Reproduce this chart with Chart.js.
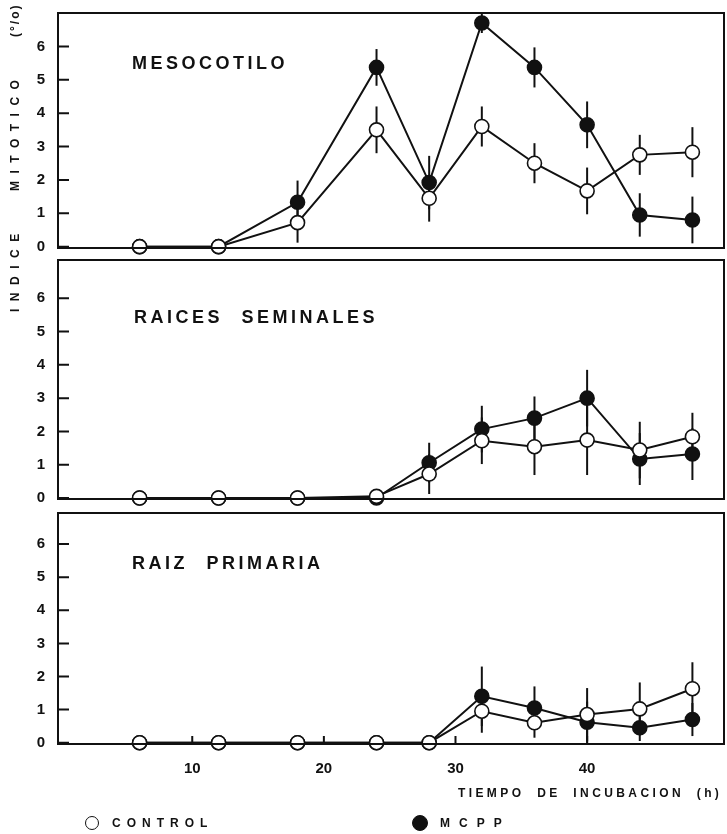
<!DOCTYPE html>
<html>
<head>
<meta charset="utf-8">
<script src="https://cdn.jsdelivr.net/npm/chart.js@4.4.1/dist/chart.umd.min.js"></script>
<style>
  body { margin: 0; background: #fff; width: 727px; height: 834px; position: relative; overflow: hidden;
         font-family: "Liberation Sans", Arial, sans-serif; font-weight: bold; color: #111; }
  canvas { position: absolute; left: 0; }
  .lbl { position: absolute; white-space: nowrap; line-height: 1; }
  .panel { font-size: 18px; letter-spacing: 3.5px; word-spacing: 10px; }
  .small { font-size: 12px; }
  .dot { position: absolute; border-radius: 50%; box-sizing: border-box; border: 1.6px solid #111; }
</style>
</head>
<body>
<canvas id="meso" width="727" height="260" style="top:0"></canvas>
<canvas id="seminal" width="727" height="260" style="top:250px"></canvas>
<canvas id="primaria" width="727" height="329" style="top:505px"></canvas>

<div class="lbl panel" style="left:132px; top:54px">MESOCOTILO</div>
<div class="lbl panel" style="left:134px; top:308px">RAICES SEMINALES</div>
<div class="lbl panel" style="left:132px; top:554px">RAIZ PRIMARIA</div>

<!-- y axis title, rotated -->
<div style="position:absolute; left:0; top:0; width:312px; height:14px; transform-origin:0 0; transform:translate(8px, 312px) rotate(-90deg);">
  <span class="lbl small" style="left:0; top:1px; letter-spacing:7.5px">INDICE</span>
  <span class="lbl small" style="left:121px; top:1px; letter-spacing:7.5px">MITOTICO</span>
  <span class="lbl small" style="left:275px; top:1px; letter-spacing:2px">(°/o)</span>
</div>

<div class="lbl small" style="left:458px; top:787px; letter-spacing:3.4px; word-spacing:6px">TIEMPO DE INCUBACION (h)</div>

<span class="dot" style="left:85px; top:816px; width:14px; height:14px; background:#fff"></span>
<div class="lbl small" style="left:112px; top:817px; letter-spacing:6px">CONTROL</div>
<span class="dot" style="left:412px; top:815px; width:16px; height:16px; background:#111"></span>
<div class="lbl small" style="left:440px; top:817px; letter-spacing:9px">MCPP</div>

<script>
// hours of incubation (same sampling for the three panels)
const hours = [6, 12, 18, 24, 28, 32, 36, 40, 44, 48];
const yTicks = [0, 1, 2, 3, 4, 5, 6];
const xTicks = [10, 20, 30, 40];

// MESOCOTILO
const mesoControl    = [0, 0, 0.72, 3.5, 1.45, 3.6, 2.5, 1.67, 2.75, 2.83];
const mesoControlErr = [0, 0, 0.6, 0.7, 0.7, 0.6, 0.6, 0.7, 0.6, 0.75];
const mesoMcpp       = [0, 0, 1.33, 5.37, 1.92, 6.7, 5.37, 3.65, 0.95, 0.8];
const mesoMcppErr    = [0, 0, 0.65, 0.55, 0.8, 0.3, 0.6, 0.7, 0.65, 0.7];

// RAICES SEMINALES
const seminalControl    = [0, 0, 0, 0.05, 0.72, 1.72, 1.54, 1.74, 1.44, 1.84];
const seminalControlErr = [0, 0, 0, 0, 0.6, 0.7, 0.85, 1.05, 0.85, 0.72];
const seminalMcpp       = [0, 0, 0, 0, 1.06, 2.07, 2.4, 3.0, 1.17, 1.32];
const seminalMcppErr    = [0, 0, 0, 0, 0.6, 0.7, 0.65, 0.85, 0.78, 0.78];

// RAIZ PRIMARIA
const primControl    = [0, 0, 0, 0, 0, 0.95, 0.6, 0.85, 1.02, 1.63];
const primControlErr = [0, 0, 0, 0, 0, 0.65, 0.45, 0.8, 0.8, 0.8];
const primMcpp       = [0, 0, 0, 0, 0, 1.4, 1.05, 0.62, 0.45, 0.7];
const primMcppErr    = [0, 0, 0, 0, 0, 0.9, 0.65, 0.62, 0.4, 0.5];

const INK = '#111';
const tickFont = { family: '"Liberation Sans", Arial, sans-serif', weight: 'bold', size: 15 };

// frame + inward tick marks
const framePlugin = {
  id: 'frame',
  afterDraw(chart, args, opts) {
    const { ctx, chartArea: a, scales } = chart;
    ctx.save();
    ctx.strokeStyle = INK;
    ctx.lineWidth = 2;
    ctx.strokeRect(a.left, a.top, a.right - a.left, a.bottom - a.top);
    ctx.beginPath();
    yTicks.forEach(v => {
      const y = scales.y.getPixelForValue(v);
      ctx.moveTo(a.left, y);
      ctx.lineTo(a.left + 11, y);
    });
    if (opts.xTicks) {
      xTicks.forEach(v => {
        const x = scales.x.getPixelForValue(v);
        ctx.moveTo(x, a.bottom);
        ctx.lineTo(x, a.bottom - 8);
      });
    }
    ctx.stroke();
    ctx.restore();
  }
};

// vertical error bars, drawn under the markers
const errorBarPlugin = {
  id: 'errbars',
  beforeDatasetsDraw(chart) {
    const { ctx, scales } = chart;
    ctx.save();
    ctx.strokeStyle = INK;
    ctx.lineWidth = 2;
    chart.data.datasets.forEach((ds, di) => {
      const meta = chart.getDatasetMeta(di);
      ds.data.forEach((p, i) => {
        const e = ds.errors[i];
        if (!e) return;
        const x = meta.data[i].x;
        ctx.beginPath();
        ctx.moveTo(x, scales.y.getPixelForValue(p.y + e));
        ctx.lineTo(x, scales.y.getPixelForValue(Math.max(0, p.y - e)));
        ctx.stroke();
      });
    });
    ctx.restore();
  }
};

function series(label, values, errors, fill) {
  return {
    label,
    data: hours.map((h, i) => ({ x: h, y: values[i] })),
    errors,
    borderColor: INK,
    borderWidth: 2,
    pointRadius: 7,
    pointBackgroundColor: fill,
    pointBorderColor: INK,
    pointBorderWidth: 1.6,
    tension: 0,
    clip: false
  };
}

function noPad(s) {
  s.paddingTop = 0; s.paddingBottom = 0; s.paddingLeft = 0; s.paddingRight = 0;
}

function makePanel(id, control, controlErr, mcpp, mcppErr, yMin, yMax, padTop, padBottom, showX) {
  const canvas = document.getElementById(id);
  return new Chart(canvas.getContext('2d'), {
    type: 'line',
    data: {
      datasets: [
        series('CONTROL', control, controlErr, '#fff'),
        series('MCPP', mcpp, mcppErr, INK)
      ]
    },
    options: {
      responsive: false,
      animation: false,
      events: [],
      layout: { autoPadding: false, padding: { top: padTop, bottom: padBottom, left: 0, right: 3 } },
      plugins: { legend: { display: false }, tooltip: { enabled: false }, frame: { xTicks: showX } },
      scales: {
        x: {
          type: 'linear',
          min: -0.2,
          max: 50.4,
          display: showX,
          grid: { display: false, drawTicks: false },
          border: { display: false },
          afterBuildTicks: s => { s.ticks = xTicks.map(v => ({ value: v })); },
          afterFit: s => { s.height = showX ? 90 : 0; noPad(s); },
          ticks: { font: tickFont, color: INK, padding: 16, maxRotation: 0, autoSkip: false }
        },
        y: {
          min: yMin,
          max: yMax,
          grid: { display: false, drawTicks: false },
          border: { display: false },
          afterBuildTicks: s => { s.ticks = yTicks.map(v => ({ value: v })); },
          afterFit: s => { s.width = 58; noPad(s); },
          ticks: { font: tickFont, color: INK, padding: 13 }
        }
      }
    },
    plugins: [framePlugin, errorBarPlugin]
  });
}

makePanel('meso', mesoControl, mesoControlErr, mesoMcpp, mesoMcppErr, -0.04, 7.0, 13, 12, false);
makePanel('seminal', seminalControl, seminalControlErr, seminalMcpp, seminalMcppErr, -0.03, 7.15, 10, 11, false);
makePanel('primaria', primControl, primControlErr, primMcpp, primMcppErr, -0.04, 6.94, 8, 0, true);
</script>
</body>
</html>
